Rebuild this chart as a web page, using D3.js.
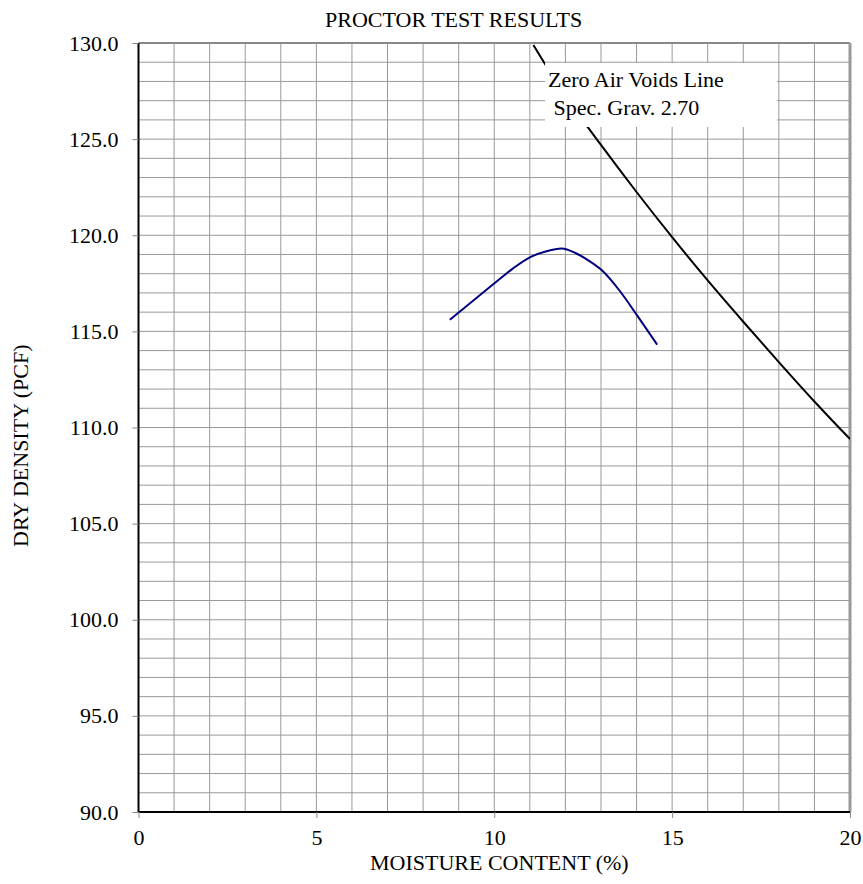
<!DOCTYPE html>
<html>
<head>
<meta charset="utf-8">
<script src="https://cdn.jsdelivr.net/npm/d3@7"></script>
<style>
  body { margin: 0; background: #fff; overflow: hidden; }
  svg { display: block; }
  text { font-family: "Liberation Serif", "Times New Roman", serif; fill: #000; }
</style>
</head>
<body>
<svg id="chart"></svg>
<script>
// compaction curve
var proctorMoisture = [8.75, 9.31, 9.97, 10.53, 11.0, 11.47, 11.89, 12.31, 12.6, 13.01, 13.53, 13.99, 14.58];
var proctorDensity  = [115.6, 116.45, 117.45, 118.28, 118.85, 119.17, 119.31, 119.05, 118.75, 118.2, 117.1, 115.9, 114.31];

// zero air voids line, Gs = 2.70
var zavMoisture = [11.1, 12, 13, 14, 15, 16, 17, 18, 19, 20];
var zavDensity  = [129.9, 127.25, 124.7, 122.25, 119.9, 117.65, 115.5, 113.4, 111.35, 109.4];

var xTicks = [0, 5, 10, 15, 20];
var yTicks = [90, 95, 100, 105, 110, 115, 120, 125, 130];

var noteLines = ["Zero Air Voids Line", " Spec. Grav. 2.70"];

var config = {
    width: 863,
    height: 884,
    margin: {top: 43, right: 13, bottom: 72, left: 138.5}
};

var svg = d3.select('#chart')
    .attr('width', config.width)
    .attr('height', config.height);

var inner_width = config.width - config.margin.left - config.margin.right;
var inner_height = config.height - config.margin.top - config.margin.bottom;

var x = d3.scaleLinear().domain([0, 20]).range([0, inner_width]);
var y = d3.scaleLinear().domain([90, 130]).range([inner_height, 0]);

var chart = svg.append('g')
    .attr('transform', `translate(${config.margin.left}, ${config.margin.top})`);

svg.append('defs').append('clipPath').attr('id', 'plotclip')
    .append('rect').attr('width', inner_width).attr('height', inner_height);

// grid
chart.append('g')
    .selectAll('line')
    .data(d3.range(1, 20))
    .enter().append('line')
    .attr('x1', d => x(d)).attr('x2', d => x(d))
    .attr('y1', 0).attr('y2', inner_height)
    .attr('stroke', '#999').attr('stroke-width', 1);

chart.append('g')
    .selectAll('line')
    .data(d3.range(91, 130))
    .enter().append('line')
    .attr('x1', 0).attr('x2', inner_width)
    .attr('y1', d => y(d)).attr('y2', d => y(d))
    .attr('stroke', '#999').attr('stroke-width', 1);

// top & right border (grey)
chart.append('line')
    .attr('x1', 0).attr('x2', inner_width).attr('y1', 0).attr('y2', 0)
    .attr('stroke', '#888').attr('stroke-width', 2);
chart.append('line')
    .attr('x1', inner_width).attr('x2', inner_width).attr('y1', 0).attr('y2', inner_height)
    .attr('stroke', '#999').attr('stroke-width', 3);

// axes
var xAxis = chart.append('g')
    .attr('transform', `translate(0, ${inner_height})`)
    .call(d3.axisBottom(x).tickValues(xTicks).tickFormat(d3.format('d')).tickSize(6).tickPadding(11));
var yAxis = chart.append('g')
    .call(d3.axisLeft(y).tickValues(yTicks).tickFormat(d3.format('.1f')).tickSize(6).tickPadding(14));

[xAxis, yAxis].forEach(function(a){
    a.select('.domain').attr('stroke', '#000').attr('stroke-width', 2);
    a.selectAll('.tick line').attr('stroke', '#888');
    a.selectAll('.tick text')
        .attr('font-family', '"Liberation Serif", "Times New Roman", serif')
        .attr('font-size', '22px')
        .attr('fill', '#000');
});
xAxis.select('.domain').attr('d', `M0,0H${inner_width}`);
yAxis.select('.domain').attr('d', `M0,${inner_height}V0`);

var line = d3.line()
    .x(d => x(d.m))
    .y(d => y(d.d));

var plot = chart.append('g').attr('clip-path', 'url(#plotclip)');

// zero air voids line
var zav = zavMoisture.map((m, i) => ({m: m, d: zavDensity[i]}));
plot.append('path')
    .datum(zav)
    .attr('d', line.curve(d3.curveCatmullRom.alpha(0.5)))
    .attr('fill', 'none')
    .attr('stroke', '#000')
    .attr('stroke-width', 2);

// proctor curve
var proctor = proctorMoisture.map((m, i) => ({m: m, d: proctorDensity[i]}));
plot.append('path')
    .datum(proctor)
    .attr('d', line.curve(d3.curveMonotoneX))
    .attr('fill', 'none')
    .attr('stroke', '#000080')
    .attr('stroke-width', 2);

// note box
var note = svg.append('g');
note.append('rect')
    .attr('x', 545).attr('y', 63)
    .attr('width', 232).attr('height', 64)
    .attr('fill', '#fff');
note.selectAll('text')
    .data(noteLines)
    .enter().append('text')
    .attr('x', 548)
    .attr('y', (d, i) => 87 + i * 28)
    .attr('font-size', '22px')
    .attr('xml:space', 'preserve')
    .style('white-space', 'pre')
    .text(d => d);

// title
svg.append('text')
    .attr('x', 325)
    .attr('y', 27)
    .attr('font-size', '22px')
    .text('PROCTOR TEST RESULTS');

// x label
svg.append('text')
    .attr('x', 370)
    .attr('y', 870)
    .attr('font-size', '22px')
    .text('MOISTURE CONTENT (%)');

// y label
svg.append('text')
    .attr('transform', 'translate(28, 547) rotate(-90)')
    .attr('font-size', '22px')
    .text('DRY DENSITY (PCF)');
</script>
</body>
</html>
